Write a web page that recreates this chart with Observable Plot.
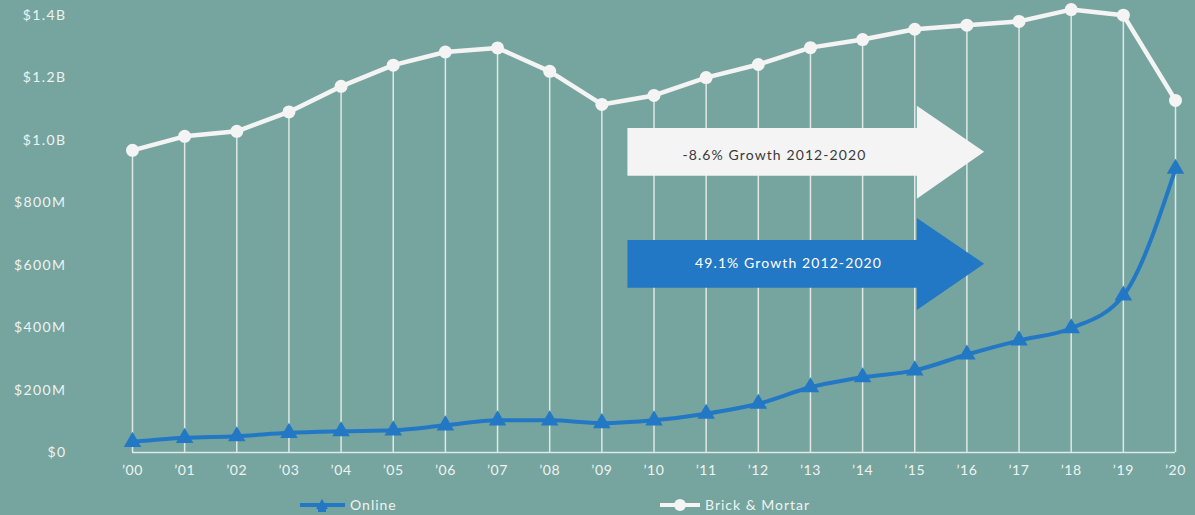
<!DOCTYPE html>
<html>
<head>
<meta charset="utf-8">
<script src="https://cdn.jsdelivr.net/npm/d3@7"></script>
<script src="https://cdn.jsdelivr.net/npm/@observablehq/plot@0.6"></script>
<style>
  html, body { margin: 0; padding: 0; background: #76a59f; }
  body { width: 1195px; height: 515px; overflow: hidden; font-family: Lato, "Open Sans", sans-serif; }
  #chart svg { display: block; }
  g[aria-label="y-axis tick label"] text { letter-spacing: 1.4px; }
  g[aria-label="x-axis tick label"] text { letter-spacing: 0.6px; }
  g[aria-label="text"] text { letter-spacing: 1.1px; }
  #legend { position: relative; height: 22px; color: #eef3f2; font-size: 14px; line-height: 16px; letter-spacing: 1px; }
  .item { position: absolute; top: 3px; display: flex; align-items: center; gap: 5px; }
</style>
</head>
<body>
<div id="chart"></div>
<div id="legend"></div>
<script>
// Years and labels
const years = [2000,2001,2002,2003,2004,2005,2006,2007,2008,2009,2010,2011,2012,2013,2014,2015,2016,2017,2018,2019,2020];
const yearLabels = ["’00","’01","’02","’03","’04","’05","’06","’07","’08","’09","’10","’11","’12","’13","’14","’15","’16","’17","’18","’19","’20"];
// Values in $ millions
const brickMortar = [968,1013,1029,1091,1173,1241,1283,1296,1221,1115,1144,1201,1243,1297,1323,1356,1369,1381,1419,1401,1128];
const online = [34,47,52,63,68,71,87,103,103,94,103,124,156,209,241,263,314,359,398,503,909];
const yTicks = [0,200,400,600,800,1000,1200,1400];
const seriesNames = ["Online","Brick & Mortar"];
// Annotation arrows (data units: year, $M)
const arrowWhite = [
  {x:2009.5, y1:885, y2:1038},
  {x:2015.05, y1:885, y2:1038},
  {x:2015.05, y1:811, y2:1109},
  {x:2016.34, y1:962, y2:962}
];
const arrowBlue = [
  {x:2009.5, y1:526, y2:679},
  {x:2015.05, y1:526, y2:679},
  {x:2015.05, y1:455, y2:750},
  {x:2016.34, y1:603, y2:603}
];
const notes = [
  {x:2012.31, y:952, text:"-8.6% Growth 2012-2020", color:"#3a3a3a"},
  {x:2012.58, y:606, text:"49.1% Growth 2012-2020", color:"#ffffff"}
];

const BLUE = "#2278c4";
const WHITE = "#f4f4f4";
const GRID = "#dce9e7";
const TEXT = "#eef3f2";

const data = years.map((y,i) => ({year:y, label:yearLabels[i], brick:brickMortar[i], online:online[i]}));
const fmt = d => d === 0 ? "$0" : d < 1000 ? `$${d}M` : `$${(d/1000).toFixed(1)}B`;

const chart = Plot.plot({
  width: 1195,
  height: 493,
  marginLeft: 132,
  marginRight: 20,
  marginTop: 15,
  marginBottom: 41,
  style: {background: "transparent", fontFamily: "Lato, 'Open Sans', sans-serif", fontSize: "14px", color: TEXT},
  x: {domain: [2000, 2020], ticks: years, tickFormat: (d) => yearLabels[years.indexOf(d)], tickSize: 0, tickPadding: 13, label: null},
  y: {domain: [0, 1400], ticks: yTicks, tickFormat: fmt, tickSize: 0, tickPadding: 66, label: null},
  marks: [
    Plot.ruleX(data, {x: "year", y1: 0, y2: "brick", stroke: GRID, strokeWidth: 1.5}),
    Plot.ruleY([0], {stroke: GRID, strokeWidth: 1.5}),
    Plot.areaY(arrowWhite, {x: "x", y1: "y1", y2: "y2", fill: WHITE, curve: "linear"}),
    Plot.areaY(arrowBlue, {x: "x", y1: "y1", y2: "y2", fill: BLUE, curve: "linear"}),
    Plot.text(notes, {x: "x", y: "y", text: "text", fill: "color", fontSize: 14}),
    Plot.line(data, {x: "year", y: "brick", stroke: WHITE, strokeWidth: 4.5}),
    Plot.dot(data, {x: "year", y: "brick", r: 6.5, fill: WHITE, stroke: "none"}),
    Plot.line(data, {x: "year", y: "online", stroke: BLUE, strokeWidth: 4, curve: "monotone-x"}),
    Plot.dot(data, {x: "year", y: "online", symbol: "triangle", r: 6.5, fill: BLUE, stroke: "none"})
  ]
});
document.getElementById("chart").appendChild(chart);

// Legend
const legend = document.getElementById("legend");
const items = [
  {name: seriesNames[0], color: BLUE, shape: "tri", left: 300},
  {name: seriesNames[1], color: WHITE, shape: "dot", left: 660}
];
for (const it of items) {
  const div = document.createElement("div");
  div.className = "item";
  div.style.left = it.left + "px";
  const w = it.shape === "tri" ? 45 : 40;
  const sym = it.shape === "tri"
    ? `<path d="M22,3 L28,13 L16,13 Z" fill="${it.color}"/><rect x="18" y="10" width="8" height="6" fill="${it.color}"/>`
    : `<circle cx="20" cy="9" r="6" fill="${it.color}"/>`;
  div.innerHTML = `<svg width="${w}" height="18" viewBox="0 0 ${w} 18"><line x1="0" y1="9" x2="${w}" y2="9" stroke="${it.color}" stroke-width="4"/>${sym}</svg><span>${it.name}</span>`;
  legend.appendChild(div);
}
</script>
</body>
</html>
